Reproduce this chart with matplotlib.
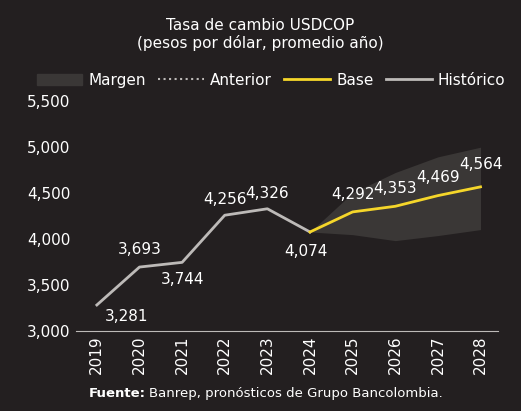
import matplotlib
matplotlib.use("Agg")
import matplotlib.pyplot as plt
from matplotlib.patches import Patch
from matplotlib.lines import Line2D

BG = "#231f20"
years = [2019, 2020, 2021, 2022, 2023, 2024, 2025, 2026, 2027, 2028]
hist_years = years[:6]
hist_vals = [3281, 3693, 3744, 4256, 4326, 4074]
base_years = years[5:]
base_vals = [4074, 4292, 4353, 4469, 4564]
upper = [4074, 4500, 4720, 4890, 4995]
lower = [4074, 4045, 3980, 4035, 4100]

fig = plt.figure(figsize=(5.21, 4.11), dpi=100, facecolor=BG)
ax = fig.add_axes([0.145, 0.195, 0.81, 0.56], facecolor=BG)

ax.fill_between(base_years, lower, upper, color="#3a3736", lw=0)
ax.plot(hist_years, hist_vals, color="#bdbab8", lw=2)
ax.plot(base_years, base_vals, color="#f5d62a", lw=2)

# value labels
offs = {2019: (0.7, -120), 2020: (0, 190), 2021: (0, -190), 2022: (0, 170),
        2023: (0, 170), 2024: (-0.1, -210), 2025: (0, 190), 2026: (0, 190),
        2027: (0, 200), 2028: (0, 240)}
allv = dict(zip(hist_years, hist_vals))
allv.update(zip(base_years, base_vals))
for y, v in allv.items():
    dx, dy = offs[y]
    ax.text(y + dx, v + dy, f"{v:,}", color="white", fontsize=11,
            ha="center", va="center")

ax.set_xlim(2018.5, 2028.4)
ax.set_ylim(3000, 5500)
ax.set_yticks(range(3000, 5501, 500))
ax.set_yticklabels([f"{t:,}" for t in range(3000, 5501, 500)])
ax.set_xticks(years)
ax.set_xticklabels([str(y) for y in years], rotation=90)
ax.tick_params(colors="white", labelsize=11, length=0)
for s in ["top", "right", "left"]:
    ax.spines[s].set_visible(False)
ax.spines["bottom"].set_color("#bdbab8")

fig.text(0.5, 0.955, "Tasa de cambio USDCOP\n(pesos por dólar, promedio año)",
         color="white", fontsize=11, ha="center", va="top", linespacing=1.1)

handles = [Patch(color="#3a3736"),
           Line2D([], [], color="#bdbab8", ls=":", lw=1.5),
           Line2D([], [], color="#f5d62a", lw=2),
           Line2D([], [], color="#bdbab8", lw=2)]
fig.legend(handles, ["Margen", "Anterior", "Base", "Histórico"],
           loc="center", bbox_to_anchor=(0.52, 0.805), ncol=4, frameon=False,
           labelcolor="white", fontsize=11, handlelength=3, columnspacing=0.8,
           handletextpad=0.4)

t = fig.text(0.17, 0.035, "Fuente:", color="white", fontsize=9.5,
             ha="left", fontweight="bold")
fig.canvas.draw()
bb = t.get_window_extent().transformed(fig.transFigure.inverted())
fig.text(bb.x1 + 0.006, 0.035, "Banrep, pronósticos de Grupo Bancolombia.",
         color="white", fontsize=9.5, ha="left")

fig.savefig("out.png", dpi=100, facecolor=BG)
